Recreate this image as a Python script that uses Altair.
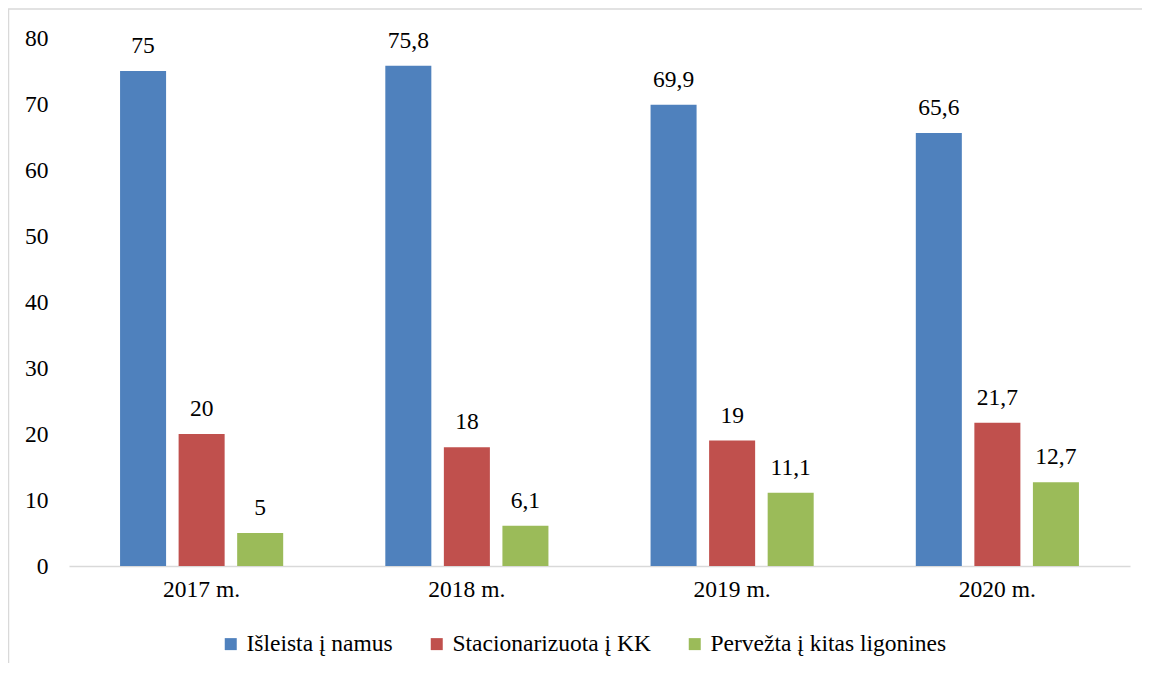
import altair as alt
import pandas as pd

years = ["2017 m.", "2018 m.", "2019 m.", "2020 m."]
series = ["Išleista į namus", "Stacionarizuota į KK", "Pervežta į kitas ligonines"]
colors = ["#4F81BD", "#C0504D", "#9BBB59"]
home = [75, 75.8, 69.9, 65.6]
kk = [20, 18, 19, 21.7]
other = [5, 6.1, 11.1, 12.7]

rows = []
for s, vals in zip(series, [home, kk, other]):
    for y, v in zip(years, vals):
        rows.append({"year": y, "series": s, "value": v,
                     "label": (f"{v:g}").replace(".", ",")})
df = pd.DataFrame(rows)

FONT = "Liberation Serif"
FS = 23.5

x = alt.X("year:N", sort=years, title=None,
          scale=alt.Scale(paddingInner=0, paddingOuter=0),
          axis=alt.Axis(labelAngle=0, ticks=False, labelPadding=11,
                        domainColor="#d9d9d9", domainWidth=1.5,
                        labelFont=FONT, labelFontSize=FS, labelColor="#000000"))
xo = alt.XOffset("series:N", sort=series,
                 scale=alt.Scale(paddingInner=0.214, paddingOuter=0.872))
y = alt.Y("value:Q", title=None,
          scale=alt.Scale(domain=[0, 80], nice=False),
          axis=alt.Axis(values=list(range(0, 81, 10)), domain=False, ticks=False,
                        grid=False, labelPadding=21, labelFont=FONT,
                        labelFontSize=FS, labelColor="#000000"))

base = alt.Chart(df)
bars = base.mark_bar().encode(
    x=x, xOffset=xo, y=y,
    color=alt.Color("series:N", sort=series,
                    scale=alt.Scale(domain=series, range=colors),
                    legend=alt.Legend(title=None, orient="none", direction="horizontal",
                                      legendX=150, legendY=594,
                                      symbolType="square", symbolSize=144,
                                      symbolStrokeWidth=0, labelOffset=4,
                                      columnPadding=32, labelFont=FONT,
                                      labelLimit=1000,
                                      labelFontSize=FS, labelColor="#000000")),
)
texts = base.mark_text(font=FONT, fontSize=FS, baseline="alphabetic", dy=-18,
                       color="#000000").encode(
    x=alt.X("year:N", sort=years), xOffset=alt.XOffset("series:N", sort=series),
    y="value:Q", text="label:N")

frame = alt.Chart(pd.DataFrame({"a": [0]})).mark_rect(
    fill=None, stroke="#d9d9d9", strokeWidth=1.5).encode(
    x=alt.value(-60.5), x2=alt.value(3000), y=alt.value(-29), y2=alt.value(3000))

chart = alt.layer(frame, bars, texts).properties(
    width=1061, height=528,
    autosize=alt.AutoSizeParams(type="none"),
    padding={"left": 61, "top": 30, "right": 12, "bottom": 97},
).configure_view(stroke=None)

chart.save("out.html", embed_options={"renderer": "svg", "actions": False})
